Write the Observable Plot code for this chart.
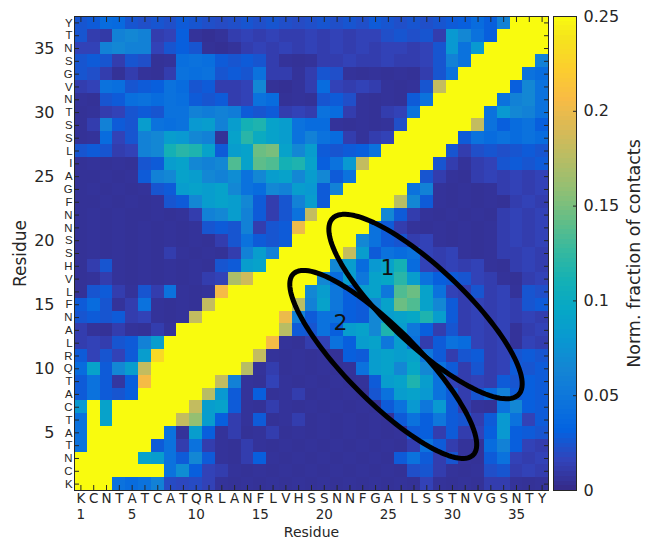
<!DOCTYPE html>
<html><head><meta charset="utf-8">
<script src="https://cdn.jsdelivr.net/npm/d3@7"></script>
<script src="https://cdn.jsdelivr.net/npm/@observablehq/plot@0.6"></script>
<style>
html,body{margin:0;padding:0;background:#fff;}
#chart{position:relative;width:647px;height:540px;}
#chart svg{position:absolute;left:0;top:0;}
</style></head><body><div id="chart"></div>
<script>
// ---- tick labels / categories ----
const residues = [1,2,3,4,5,6,7,8,9,10,11,12,13,14,15,16,17,18,19,20,21,22,23,24,25,26,27,28,29,30,31,32,33,34,35,36,37];
const sequence = ["K","C","N","T","A","T","C","A","T","Q","R","L","A","N","F","L","V","H","S","S","N","N","F","G","A","I","L","S","S","T","N","V","G","S","N","T","Y"];
const xNumberTicks = [1,5,10,15,20,25,30,35];
const yNumberTicks = [5,10,15,20,25,30,35];
const colorTicks = [0,0.05,0.1,0.15,0.2,0.25];
const colorTickLabels = ["0","0.05","0.1","0.15","0.2","0.25"];
const xTitle = "Residue";
const yTitle = "Residue";
const colorTitle = "Norm. fraction of contacts";

// ---- normalized fraction of contacts, one array per y residue (x = residue 1..37) ----
const r01 = [.3,.3,.3,.045,.04,.045,.06,.02,.018,.02,.015,.006,.005,.006,.005,.006,.005,.006,.005,.006,.005,.006,.005,.006,.005,.006,.005,.015,.006,.005,.006,.005,.012,.012,.006,.005,.006];
const r02 = [.3,.3,.3,.3,.3,.3,.3,.045,.07,.03,.015,.012,.006,.005,.006,.005,.006,.005,.006,.005,.006,.005,.006,.005,.006,.005,.022,.025,.012,.006,.005,.006,.022,.025,.012,.015,.012];
const r03 = [.3,.3,.3,.3,.3,.09,.085,.045,.028,.065,.028,.006,.005,.012,.03,.006,.005,.006,.005,.006,.005,.006,.005,.006,.005,.028,.045,.028,.012,.025,.006,.005,.028,.045,.015,.012,.015];
const r04 = [.045,.3,.3,.3,.3,.3,.028,.045,.012,.045,.012,.006,.005,.012,.006,.005,.006,.005,.006,.005,.006,.005,.006,.005,.006,.005,.012,.045,.028,.012,.006,.005,.04,.06,.03,.015,.012];
const r05 = [.045,.3,.3,.3,.3,.3,.3,.045,.006,.085,.03,.006,.012,.005,.006,.012,.005,.006,.005,.006,.005,.006,.005,.006,.005,.006,.028,.03,.012,.028,.012,.015,.03,.08,.03,.028,.025];
const r06 = [.045,.3,.09,.3,.3,.3,.3,.3,.18,.16,.085,.03,.012,.006,.028,.005,.006,.012,.005,.006,.005,.006,.005,.006,.005,.028,.045,.03,.05,.028,.025,.012,.028,.08,.045,.015,.028];
const r07 = [.08,.3,.09,.3,.3,.3,.3,.3,.3,.18,.085,.09,.028,.006,.005,.012,.006,.005,.006,.005,.006,.005,.006,.005,.028,.045,.08,.05,.08,.028,.012,.006,.005,.045,.065,.03,.028];
const r08 = [.028,.045,.028,.025,.03,.3,.3,.3,.3,.3,.175,.08,.028,.006,.03,.005,.006,.012,.005,.006,.005,.006,.005,.025,.045,.085,.09,.08,.045,.028,.012,.025,.04,.06,.028,.03,.028];
const r09 = [.028,.045,.028,.008,.03,.205,.3,.3,.3,.3,.3,.18,.06,.006,.005,.015,.006,.005,.006,.005,.006,.005,.006,.028,.085,.09,.115,.085,.045,.015,.012,.015,.012,.028,.025,.03,.028];
const r10 = [.04,.09,.028,.065,.085,.18,.3,.3,.3,.3,.3,.3,.3,.175,.006,.012,.005,.006,.005,.006,.005,.006,.045,.085,.09,.065,.095,.065,.045,.028,.012,.025,.012,.015,.028,.025,.028];
const r11 = [.028,.015,.025,.015,.028,.085,.23,.3,.3,.3,.3,.3,.3,.3,.18,.006,.005,.006,.005,.006,.005,.03,.028,.085,.09,.085,.09,.05,.028,.012,.025,.028,.012,.015,.025,.028,.025];
const r12 = [.012,.015,.012,.025,.028,.06,.085,.3,.3,.3,.3,.3,.3,.3,.3,.205,.006,.005,.012,.015,.045,.03,.085,.09,.05,.085,.045,.012,.028,.045,.04,.015,.012,.015,.006,.015,.012];
const r13 = [.012,.006,.005,.012,.006,.005,.012,.006,.3,.3,.3,.3,.3,.3,.3,.3,.175,.028,.025,.045,.03,.085,.09,.065,.115,.085,.05,.03,.012,.025,.012,.015,.012,.015,.006,.012,.015];
const r14 = [.025,.028,.025,.028,.012,.015,.006,.005,.006,.18,.3,.3,.3,.3,.3,.3,.2,.06,.028,.045,.045,.03,.028,.065,.085,.09,.095,.115,.085,.028,.012,.015,.012,.015,.012,.015,.012];
const r15 = [.028,.04,.025,.006,.012,.045,.006,.005,.006,.005,.18,.3,.3,.3,.3,.3,.3,.175,.06,.09,.05,.03,.028,.065,.09,.145,.135,.09,.065,.028,.012,.015,.012,.015,.012,.025,.028];
const r16 = [.005,.025,.028,.012,.006,.025,.012,.045,.006,.005,.006,.205,.3,.3,.3,.3,.3,.3,.065,.085,.05,.03,.085,.09,.05,.135,.145,.09,.045,.015,.012,.025,.012,.015,.006,.025,.022];
const r17 = [.005,.006,.012,.006,.005,.006,.005,.006,.005,.006,.012,.015,.17,.185,.3,.3,.3,.3,.3,.065,.04,.085,.05,.09,.095,.12,.085,.045,.03,.028,.025,.015,.012,.006,.005,.012,.015];
const r18 = [.005,.012,.025,.006,.005,.006,.005,.006,.005,.006,.005,.025,.028,.085,.09,.3,.3,.3,.3,.3,.065,.085,.04,.08,.09,.11,.04,.015,.012,.015,.012,.015,.006,.005,.012,.015,.012];
const r19 = [.005,.006,.005,.006,.005,.006,.005,.012,.006,.005,.006,.005,.012,.06,.085,.06,.3,.3,.3,.3,.3,.18,.085,.028,.045,.04,.045,.015,.012,.015,.006,.005,.006,.012,.012,.015,.012];
const r20 = [.005,.006,.005,.006,.005,.006,.005,.006,.005,.006,.005,.012,.025,.045,.028,.025,.028,.3,.3,.3,.3,.3,.065,.045,.028,.025,.012,.015,.006,.005,.006,.005,.006,.012,.015,.012,.015];
const r21 = [.005,.006,.005,.006,.005,.006,.005,.006,.005,.006,.025,.028,.025,.06,.012,.025,.028,.2,.3,.3,.3,.3,.3,.045,.028,.012,.006,.005,.006,.005,.006,.005,.006,.012,.015,.012,.015];
const r22 = [.005,.006,.005,.006,.005,.005,.006,.005,.006,.012,.06,.065,.085,.06,.028,.012,.025,.045,.18,.3,.3,.3,.3,.3,.065,.028,.012,.006,.005,.006,.005,.006,.005,.012,.015,.012,.015];
const r23 = [.005,.005,.006,.005,.006,.005,.006,.025,.028,.065,.085,.09,.085,.065,.028,.012,.025,.06,.085,.028,.3,.3,.3,.3,.3,.175,.065,.028,.006,.005,.006,.005,.006,.005,.012,.015,.012];
const r24 = [.005,.006,.005,.006,.005,.006,.025,.028,.085,.09,.085,.09,.065,.045,.04,.065,.06,.085,.08,.028,.06,.3,.3,.3,.3,.3,.045,.06,.006,.005,.006,.005,.006,.012,.015,.012,.015];
const r25 = [.005,.005,.006,.005,.006,.028,.06,.065,.09,.085,.065,.06,.07,.045,.065,.085,.09,.065,.085,.065,.028,.045,.3,.3,.3,.3,.3,.025,.012,.006,.005,.012,.015,.012,.015,.012,.015];
const r26 = [.005,.006,.005,.006,.005,.025,.028,.085,.09,.065,.06,.065,.135,.09,.14,.135,.11,.115,.09,.03,.045,.08,.18,.3,.3,.3,.3,.3,.025,.012,.006,.012,.015,.025,.028,.025,.028];
const r27 = [.025,.028,.025,.012,.015,.06,.065,.11,.12,.115,.09,.028,.085,.09,.145,.15,.09,.065,.085,.028,.025,.028,.03,.045,.3,.3,.3,.3,.3,.025,.012,.022,.025,.022,.025,.028,.025];
const r28 = [.005,.006,.04,.015,.025,.06,.065,.085,.08,.065,.06,.005,.09,.12,.1,.09,.085,.045,.06,.045,.04,.012,.006,.012,.015,.3,.3,.3,.3,.3,.028,.045,.04,.045,.04,.045,.04];
const r29 = [.005,.012,.06,.028,.025,.085,.045,.042,.045,.08,.085,.06,.085,.11,.115,.09,.085,.045,.04,.04,.006,.005,.006,.005,.006,.022,.3,.3,.3,.3,.3,.18,.045,.03,.04,.045,.03];
const r30 = [.005,.006,.012,.015,.025,.028,.025,.045,.045,.06,.055,.06,.055,.028,.025,.028,.012,.015,.012,.045,.04,.012,.006,.005,.012,.015,.045,.3,.3,.3,.3,.3,.045,.08,.065,.06,.045];
const r31 = [.006,.005,.025,.028,.042,.045,.04,.045,.042,.028,.025,.028,.012,.015,.045,.04,.005,.006,.005,.025,.028,.022,.006,.005,.006,.005,.028,.045,.3,.3,.3,.3,.3,.045,.06,.065,.045];
const r32 = [.012,.015,.045,.042,.025,.028,.03,.045,.04,.025,.028,.012,.012,.015,.065,.005,.004,.006,.012,.04,.015,.012,.015,.012,.006,.005,.006,.025,.18,.3,.3,.3,.3,.3,.03,.065,.045];
const r33 = [.025,.022,.012,.005,.012,.006,.005,.012,.045,.042,.045,.025,.028,.025,.045,.012,.012,.006,.012,.025,.022,.006,.005,.006,.005,.006,.005,.012,.025,.045,.3,.3,.3,.3,.3,.045,.04];
const r34 = [.025,.028,.025,.012,.025,.022,.005,.006,.042,.045,.042,.028,.025,.028,.025,.012,.006,.005,.006,.012,.012,.015,.012,.012,.015,.012,.012,.015,.025,.06,.045,.3,.3,.3,.3,.3,.06];
const r35 = [.015,.015,.06,.065,.06,.06,.015,.025,.03,.025,.005,.004,.006,.012,.015,.012,.015,.012,.015,.012,.015,.012,.015,.012,.015,.015,.012,.015,.025,.08,.045,.08,.3,.3,.3,.3,.3];
const r36 = [.025,.012,.01,.06,.065,.06,.012,.015,.03,.006,.004,.006,.012,.015,.012,.015,.012,.012,.015,.012,.015,.012,.015,.015,.022,.025,.022,.025,.012,.08,.065,.045,.03,.3,.3,.3,.3];
const r37 = [.025,.028,.04,.038,.025,.022,.025,.022,.028,.025,.022,.02,.022,.025,.022,.025,.022,.02,.022,.025,.022,.025,.022,.028,.025,.022,.025,.022,.025,.028,.03,.04,.03,.06,.3,.3,.3];
const rows = [r01,r02,r03,r04,r05,r06,r07,r08,r09,r10,r11,r12,r13,r14,r15,r16,r17,r18,r19,r20,r21,r22,r23,r24,r25,r26,r27,r28,r29,r30,r31,r32,r33,r34,r35,r36,r37];

// ---- annotations (ellipses drawn over the map, in residue units) ----
const ellipseLabels = ["1","2"];
const ellipseCenterX = [27.9, 24.6];
const ellipseCenterY = [14.86, 10.34];
const ellipseMajor = [10.0, 9.96];
const ellipseMinor = [2.97, 2.81];
const ellipseAngle = [-43.4, -45.2];
const labelX = [24.93, 21.27];
const labelY = [17.91, 13.61];

// ---- parula colormap ----
const parulaIdx = [0,4,8,12,16,20,24,28,32,36,40,44,48,52,56,60,63];
const parulaColors = ["#352a87","#3243ba","#0363e1","#0d75dc","#1485d4","#0998d1","#06a7c6","#15b1b4","#38b99e","#65be86","#92bf73","#b7bd64","#d9ba56","#f8bb44","#fcce2e","#f5e41d","#f9fb0e"];
const parula = d3.scaleLinear().domain(parulaIdx.map(i => i / 63)).range(parulaColors).interpolate(d3.interpolateRgb).clamp(true);
const colorScale = {type: "linear", domain: [0, 0.25], interpolate: t => parula(t), clamp: true};

const cells = rows.flatMap((row, i) => row.map((v, j) => ({x: residues[j], y: residues[i], v})));
const ellipsePts = [];
ellipseLabels.forEach((id, k) => {
  const th = ellipseAngle[k] * Math.PI / 180;
  for (let s = 0; s <= 360; s += 3) {
    const p = s * Math.PI / 180;
    const u = ellipseMajor[k] * Math.cos(p), w = ellipseMinor[k] * Math.sin(p);
    ellipsePts.push({id, x: ellipseCenterX[k] + u * Math.cos(th) - w * Math.sin(th), y: ellipseCenterY[k] + u * Math.sin(th) + w * Math.cos(th)});
  }
});
const labels = ellipseLabels.map((t, k) => ({t, x: labelX[k], y: labelY[k]}));

const font = "DejaVu Sans";
const ink = "#262626";
const blank = () => "";

const main = Plot.plot({
  width: 647, height: 540,
  marginLeft: 74, marginRight: 99, marginTop: 16, marginBottom: 50,
  style: {fontFamily: font, fontSize: "16px", color: ink, background: "white"},
  x: {domain: [0.5, 37.5]},
  y: {domain: [0.5, 37.5]},
  color: colorScale,
  marks: [
    Plot.rect(cells, {x1: d => d.x - 0.5, x2: d => d.x + 0.5, y1: d => d.y - 0.5, y2: d => d.y + 0.5, fill: "v", shapeRendering: "crispEdges"}),
    Plot.line(ellipsePts, {x: "x", y: "y", z: "id", stroke: "#000", strokeWidth: 5, curve: "linear-closed"}),
    Plot.text(labels, {x: "x", y: "y", text: "t", fontSize: 22, fill: "#111"}),
    Plot.frame({stroke: ink}),
    Plot.axisX({ticks: residues, tickSize: -5, tickFormat: blank, label: null}),
    Plot.axisX({anchor: "top", ticks: residues, tickSize: -5, tickFormat: blank, label: null}),
    Plot.axisY({ticks: residues, tickSize: -5, tickFormat: blank, label: null}),
    Plot.axisY({anchor: "right", ticks: residues, tickSize: -5, tickFormat: blank, label: null}),
    Plot.axisX({ticks: residues, tickSize: 0, tickPadding: 3.4, fontSize: 13.5, tickFormat: i => sequence[i - 1], label: null}),
    Plot.axisX({ticks: xNumberTicks, tickSize: 0, tickPadding: 19.4, fontSize: 13.5, label: null}),
    Plot.axisY({ticks: residues, tickSize: 0, tickPadding: 2, tickFormat: i => sequence[i - 1], fontSize: 11.4, fontFamily: "Liberation Sans", label: null}),
    Plot.axisY({ticks: yNumberTicks, tickSize: 0, tickPadding: 20, label: null}),
    Plot.text([xTitle], {frameAnchor: "bottom", dy: 41.8, textAnchor: "middle", lineAnchor: "middle", fontSize: 14, fill: ink}),
    Plot.text([yTitle], {frameAnchor: "left", dx: -54, rotate: -90, textAnchor: "middle", lineAnchor: "middle", fontSize: 17, fill: ink})
  ]
});

const barSteps = d3.range(0, 0.25, 0.0025);
const bar = Plot.plot({
  width: 647, height: 540,
  marginLeft: 553, marginRight: 71, marginTop: 16, marginBottom: 50,
  style: {fontFamily: font, fontSize: "16px", color: ink, background: "transparent"},
  x: {domain: [0, 1], axis: null},
  y: {domain: [0, 0.25]},
  color: colorScale,
  marks: [
    Plot.rect(barSteps, {x1: 0, x2: 1, y1: d => d, y2: d => d + 0.0026, fill: d => d + 0.00125, shapeRendering: "crispEdges"}),
    Plot.frame({stroke: ink}),
    Plot.axisY({anchor: "right", ticks: colorTicks, tickSize: -4, tickFormat: blank, label: null}),
    Plot.axisY({anchor: "right", ticks: colorTicks, tickSize: 0, tickPadding: 7, tickFormat: (d, i) => colorTickLabels[i], label: null}),
    Plot.text([colorTitle], {frameAnchor: "right", dx: 58, rotate: -90, textAnchor: "middle", lineAnchor: "middle", fontSize: 17.5, fill: ink})
  ]
});

const chart = document.getElementById("chart");
chart.appendChild(main);
chart.appendChild(bar);
</script>
</body></html>
